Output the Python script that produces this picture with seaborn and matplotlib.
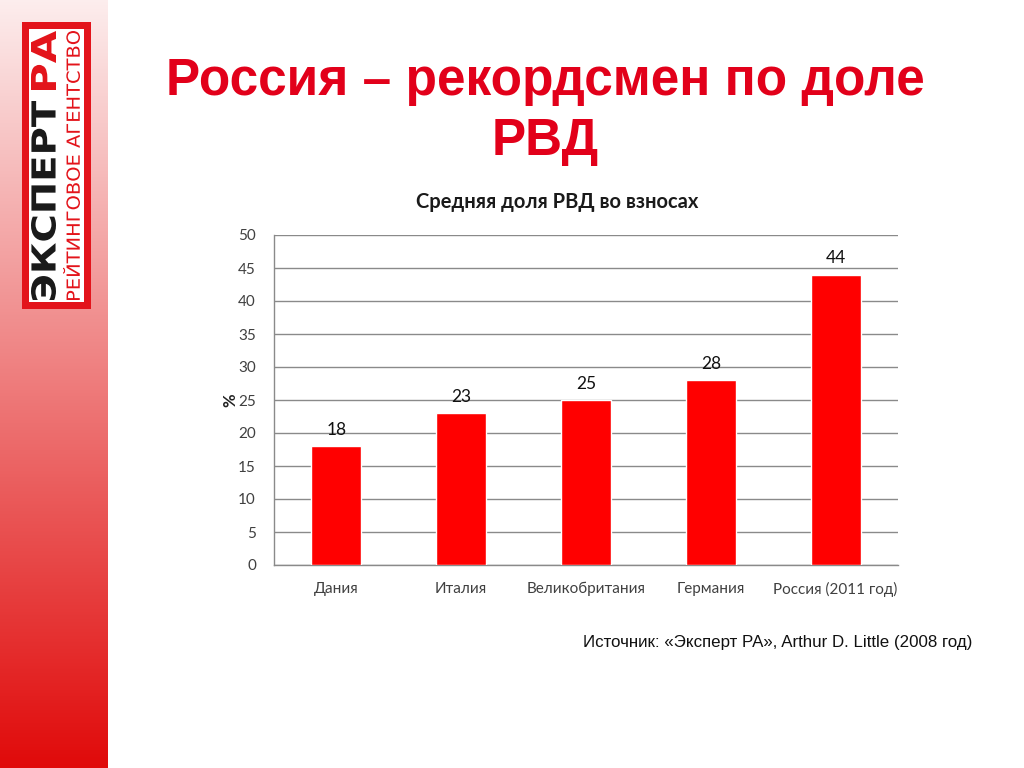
import numpy as np
import pandas as pd
import matplotlib
matplotlib.use("Agg")
import matplotlib.pyplot as plt
import seaborn as sns
from matplotlib.patches import Rectangle, PathPatch
from matplotlib.textpath import TextPath
from matplotlib.font_manager import FontProperties
from matplotlib.transforms import Affine2D

# ---- data ----
categories = ["Дания", "Италия", "Великобритания", "Германия", "Россия (2011 год)"]
values = [18, 23, 25, 28, 44]
y_ticks = [0, 5, 10, 15, 20, 25, 30, 35, 40, 45, 50]

title_line1 = "Россия – рекордсмен по доле"
title_line2 = "РВД"
chart_title = "Средняя доля РВД во взносах"
y_label = "%"
source_text = "Источник: «Эксперт РА», Arthur D. Little (2008 год)"

sns.set_theme(style="white")
plt.rcParams["font.family"] = ["Lato", "Open Sans", "DejaVu Sans"]

W, H = 1024, 768
fig = plt.figure(figsize=(W / 100, H / 100), dpi=100)
fig.patch.set_facecolor("white")

# overlay axes in pixel coordinates (y down)
ov = fig.add_axes([0, 0, 1, 1])
ov.set_xlim(0, W)
ov.set_ylim(H, 0)
ov.axis("off")

# left gradient stripe
grad = np.linspace(0, 1, 256).reshape(-1, 1)
top = np.array([0.99, 0.93, 0.93])
bot = np.array([0.88, 0.04, 0.04])
img = top[None, None, :] * (1 - grad[..., None]) + bot[None, None, :] * grad[..., None]
ov.imshow(img, extent=[0, 108, H, 0], aspect="auto", zorder=0, interpolation="bilinear")

# logo
red_logo = "#e3141b"
ov.add_patch(Rectangle((22, 22), 69, 287, facecolor=red_logo, edgecolor="none", zorder=1))
ov.add_patch(Rectangle((29, 29), 55, 273, facecolor="white", edgecolor="none", zorder=2))


def fit_text(s, x0, y0, x1, y1, color, weight, family="DejaVu Sans"):
    """Draw rotated (90 deg) text fitted into pixel box (x0..x1, y0..y1)."""
    fp = FontProperties(family=family, weight=weight)
    tp = TextPath((0, 0), s, size=100, prop=fp)
    bb = tp.get_extents()
    sx = (y1 - y0) / bb.width
    sy = (x1 - x0) / bb.height
    tr = (Affine2D().translate(-bb.x0, -bb.y0).scale(sx, sy)
          .rotate_deg(90)
          .translate(x1, 0)
          .scale(1, -1)
          .translate(0, y1))
    path = tr.transform_path(tp)
    ov.add_patch(PathPatch(path, facecolor=color, edgecolor="none", zorder=3))


fit_text("ЭКСПЕРТ", 31, 101, 56, 300, "#1a1a1a", "bold")
fit_text("РА", 31, 31, 56, 90, red_logo, "bold")
fit_text("РЕЙТИНГОВОЕ АГЕНТСТВО", 63, 31, 80, 300, red_logo, "normal")

# main title
tfam = ["Liberation Sans", "DejaVu Sans"]
ov.text(545, 81, title_line1, ha="center", va="center", fontsize=37,
        fontweight="bold", color="#e2001a", family=tfam, zorder=3)
ov.text(545, 142, title_line2, ha="center", va="center", fontsize=37,
        fontweight="bold", color="#e2001a", family=tfam, zorder=3)

# chart title
ov.text(557, 202, chart_title, ha="center", va="center", fontsize=14.5,
        fontweight="bold", color="#1a1a1a", zorder=3)

# source
ov.text(972, 642, source_text, ha="right", va="center", fontsize=12.2,
        color="#111111", family=tfam, zorder=3)

# ---- chart ----
ax = fig.add_axes([274 / W, 1 - 565 / H, 624 / W, 330 / H])
df = pd.DataFrame({"cat": categories, "val": values})
sns.barplot(data=df, x="cat", y="val", color="#ff0000", width=0.4,
            saturation=1, ax=ax, zorder=3)
ax.set_xlim(-0.5, len(categories) - 0.5)
ax.set_ylim(0, 50)
ax.set_yticks(y_ticks)
ax.set_xlabel("")
ax.set_ylabel(y_label, fontsize=12, fontweight="bold", color="#222222", labelpad=0)
gc = "#8a8a8a"
ax.grid(axis="y", color=gc, linewidth=1, zorder=0)
ax.set_axisbelow(True)
for s in ["top", "right"]:
    ax.spines[s].set_visible(False)
for s in ["left", "bottom"]:
    ax.spines[s].set_color(gc)
    ax.spines[s].set_linewidth(1)
ax.tick_params(axis="y", length=5, color=gc, labelsize=11, labelcolor="#404040", pad=8)
ax.tick_params(axis="x", length=0, labelsize=11, labelcolor="#404040", pad=12)
ax.set_xticks(np.arange(-0.5, len(categories)), minor=True)
ax.tick_params(axis="x", which="minor", length=5, color=gc)
for c in ax.containers:
    ax.bar_label(c, labels=[str(v) for v in values], padding=6, fontsize=12.5, color="#111111")

fig.savefig("out.png", dpi=100)
